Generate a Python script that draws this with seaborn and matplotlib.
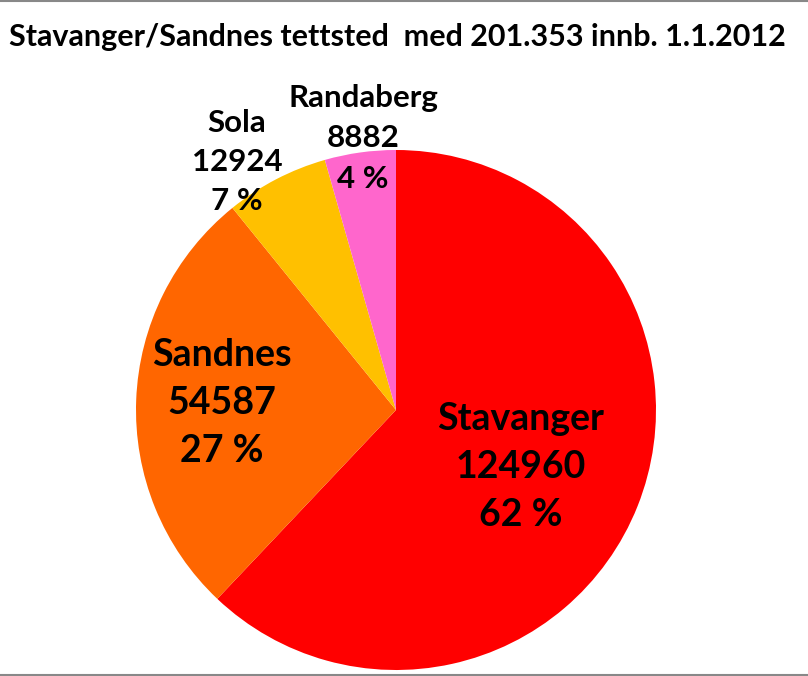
import matplotlib
matplotlib.use("Agg")
import matplotlib.pyplot as plt
from matplotlib.lines import Line2D
import seaborn as sns
import numpy as np

categories = ["Stavanger", "Sandnes", "Sola", "Randaberg"]
values = [124960, 54587, 12924, 8882]
percent_labels = ["62 %", "27 %", "7 %", "4 %"]
colors = ["#FF0000", "#FF6600", "#FFC000", "#FF66CC"]

sns.set_theme(style="white")
plt.rcParams['font.family'] = ['Lato', 'DejaVu Sans']

W, H = 808, 676
fig = plt.figure(figsize=(W / 100, H / 100), dpi=100)
ax = fig.add_axes([0, 0, 1, 1])
cx, cy, R = 396, 410, 260

ax.pie(values, colors=colors, startangle=90, counterclock=False, radius=1,
       wedgeprops=dict(linewidth=0))
ax.set_xlim(-cx / R, (W - cx) / R)
ax.set_ylim((cy - H) / R, cy / R)
ax.set_aspect('equal')
ax.axis('off')

# label positions (data units, pie radius = 1)
label_pos = [(0.481, -0.219), (-0.669, 0.027), (-0.612, 0.954), (-0.127, 1.045)]
label_size = [27, 27, 22.5, 22.5]
label_ls = [1.5, 1.5, 1.48, 1.55]
for name, v, p, pos, fs, ls in zip(categories, values, percent_labels, label_pos, label_size, label_ls):
    ax.text(pos[0], pos[1], f"{name}\n{v}\n{p}", ha='center', va='center',
            fontsize=fs, fontweight='bold', color='black', linespacing=ls)

fig.text(397 / W, 1 - 37 / H, "Stavanger/Sandnes tettsted  med 201.353 innb. 1.1.2012",
         ha='center', va='center', fontsize=22, fontweight='bold', color='black')

for yy in [1 - 0.5 / H, 1.5 / H]:
    fig.add_artist(Line2D([0, 1], [yy, yy], transform=fig.transFigure, color='#888888', linewidth=1.5))

fig.savefig("out.png", dpi=100)
